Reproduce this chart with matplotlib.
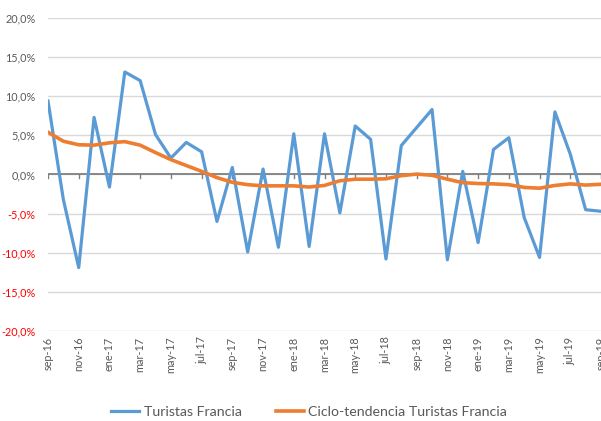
#plot.py

import matplotlib
matplotlib.use("Agg")
import matplotlib.pyplot as plt
import matplotlib.ticker as ticker
import numpy as np

# Months sep-16 .. sep-19
months = ["sep-16", "oct-16", "nov-16", "dic-16", "ene-17", "feb-17", "mar-17", "abr-17",
          "may-17", "jun-17", "jul-17", "ago-17", "sep-17", "oct-17", "nov-17", "dic-17",
          "ene-18", "feb-18", "mar-18", "abr-18", "may-18", "jun-18", "jul-18", "ago-18",
          "sep-18", "oct-18", "nov-18", "dic-18", "ene-19", "feb-19", "mar-19", "abr-19",
          "may-19", "jun-19", "jul-19", "ago-19", "sep-19"]

turistas = [9.4, -3.2, -11.9, 7.3, -1.6, 13.1, 12.0, 5.1, 2.1, 4.1, 2.9, -6.0, 0.9,
            -9.9, 0.7, -9.3, 5.2, -9.2, 5.2, -4.9, 6.2, 4.5, -10.8, 3.7, 6.0, 8.3,
            -10.9, 0.4, -8.7, 3.2, 4.7, -5.5, -10.6, 8.0, 2.6, -4.5, -4.7]

ciclo = [5.4, 4.25, 3.8, 3.75, 4.05, 4.2, 3.75, 2.8, 1.9, 1.15, 0.4, -0.4, -1.0,
         -1.3, -1.45, -1.45, -1.45, -1.6, -1.4, -0.8, -0.6, -0.6, -0.55, -0.15, 0.05,
         -0.1, -0.6, -1.05, -1.15, -1.2, -1.3, -1.65, -1.75, -1.4, -1.2, -1.35, -1.25]

label_step = 2

plt.rcParams['font.family'] = ["Lato", "DejaVu Sans"]

fig = plt.figure(figsize=(6.01, 4.21), dpi=100)
ax = fig.add_axes([48 / 601, 1 - 331 / 421, 553 / 601, 313 / 421])

x = np.arange(len(months))
ax.plot(x, turistas, color='#5B9BD5', linewidth=2.3, label='Turistas Francia', zorder=3)
ax.plot(x, ciclo, color='#ED7D31', linewidth=2.6, label='Ciclo-tendencia Turistas Francia',
        zorder=4)

ax.set_xlim(0, len(months) - 1)
ax.set_ylim(-20, 20)

# y axis: grid every 5%, negative labels in red
ax.yaxis.set_major_locator(ticker.MultipleLocator(5))
ax.yaxis.set_major_formatter(ticker.FuncFormatter(lambda v, p: f"{v:.1f}%".replace('.', ',')))
ax.tick_params(axis='y', length=0, labelsize=7.8, labelcolor='#595959', pad=9)
for lbl, v in zip(ax.get_yticklabels(), ax.get_yticks()):
    if v < 0:
        lbl.set_color('#FF0000')
ax.grid(True, axis='y', color='#D9D9D9', linewidth=1.0)
ax.set_axisbelow(True)

# x labels at the bottom, every two months
ax.set_xticks(x[::label_step])
ax.set_xticklabels(months[::label_step], rotation=90)
ax.tick_params(axis='x', length=0, labelsize=7.8, labelcolor='#595959', pad=4)

for s in ['top', 'right', 'left', 'bottom']:
    ax.spines[s].set_visible(False)

# zero axis with small tick marks below it
ax.axhline(0, color='#808080', linewidth=1.3, zorder=2)
for xt in x[::label_step]:
    ax.plot([xt, xt], [0, -0.45], color='#808080', linewidth=1.0, zorder=2)

leg = fig.legend(loc='center', bbox_to_anchor=(309 / 601, 1 - 412 / 421), ncol=2,
                 frameon=False, fontsize=10.2, handlelength=2.0, columnspacing=2.4,
                 handletextpad=0.3)
for t in leg.get_texts():
    t.set_color('#595959')

fig.savefig('out.png', dpi=100)
